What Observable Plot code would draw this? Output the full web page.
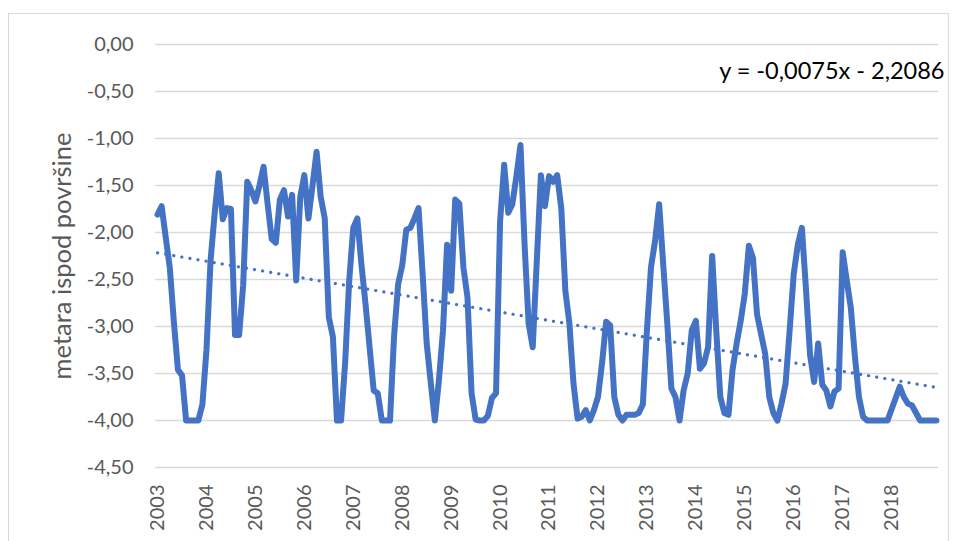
<!DOCTYPE html>
<html>
<head>
<meta charset="utf-8">
<script src="https://cdn.jsdelivr.net/npm/d3@7"></script>
<script src="https://cdn.jsdelivr.net/npm/@observablehq/plot@0.6"></script>
<style>
  html, body { margin: 0; padding: 0; background: #fff; }
  #wrap { position: relative; width: 956px; height: 541px; }
  #border { position: absolute; left: 8px; top: 13px; width: 941px; height: 540px; border: 1px solid #d9d9d9; box-sizing: border-box; pointer-events: none; }
</style>
</head>
<body>
<div id="wrap"><div id="border"></div></div>
<script>
// Year tick labels (category axis, one label every 12 months)
const yearLabels = ["2003","2004","2005","2006","2007","2008","2009","2010","2011","2012","2013","2014","2015","2016","2017","2018"];

// Monthly values, metres below surface
const v2003 = [-1.81,-1.72,-2.05,-2.37,-2.95,-3.46,-3.52,-4.00,-4.00,-4.00,-4.00,-3.83];
const v2004 = [-3.25,-2.30,-1.80,-1.37,-1.86,-1.74,-1.75,-3.09,-3.09,-2.56,-1.46,-1.55];
const v2005 = [-1.67,-1.50,-1.30,-1.70,-2.07,-2.11,-1.65,-1.55,-1.83,-1.60,-2.51,-1.62];
const v2006 = [-1.39,-1.85,-1.50,-1.14,-1.62,-1.85,-2.90,-3.11,-4.00,-4.00,-3.39,-2.51];
const v2007 = [-1.95,-1.85,-2.34,-2.76,-3.22,-3.68,-3.71,-4.00,-4.00,-4.00,-3.10,-2.55];
const v2008 = [-2.35,-1.97,-1.95,-1.85,-1.74,-2.44,-3.18,-3.60,-4.00,-3.57,-3.04,-2.13];
const v2009 = [-2.62,-1.65,-1.69,-2.37,-2.69,-3.71,-3.99,-4.00,-4.00,-3.95,-3.76,-3.71];
const v2010 = [-1.88,-1.28,-1.79,-1.70,-1.40,-1.07,-2.13,-2.97,-3.22,-2.30,-1.39,-1.72];
const v2011 = [-1.40,-1.46,-1.39,-1.74,-2.62,-2.97,-3.61,-3.98,-3.96,-3.89,-4.00,-3.89];
const v2012 = [-3.75,-3.39,-2.95,-2.99,-3.75,-3.94,-4.00,-3.94,-3.94,-3.94,-3.92,-3.83];
const v2013 = [-3.04,-2.37,-2.09,-1.70,-2.34,-2.97,-3.66,-3.75,-4.00,-3.68,-3.50,-3.04];
const v2014 = [-2.94,-3.45,-3.39,-3.22,-2.25,-3.04,-3.75,-3.92,-3.94,-3.46,-3.18,-2.94];
const v2015 = [-2.65,-2.14,-2.27,-2.87,-3.08,-3.29,-3.75,-3.92,-4.00,-3.82,-3.61,-3.04];
const v2016 = [-2.44,-2.13,-1.95,-2.60,-3.30,-3.59,-3.18,-3.62,-3.68,-3.85,-3.69,-3.66];
const v2017 = [-2.21,-2.51,-2.80,-3.32,-3.75,-3.96,-4.00,-4.00,-4.00,-4.00,-4.00,-4.00];
const v2018 = [-3.88,-3.76,-3.64,-3.75,-3.82,-3.84,-3.92,-4.00,-4.00,-4.00,-4.00,-4.00];

// Linear trendline shown on the chart: y = -0,0075x - 2,2086
const trendSlope = -0.0075;
const trendIntercept = -2.2086;
const trendLabel = "y = -0,0075x - 2,2086";
const yTicks = [0, -0.5, -1, -1.5, -2, -2.5, -3, -3.5, -4, -4.5];
const yTitle = "metara ispod površine";

const allValues = [v2003,v2004,v2005,v2006,v2007,v2008,v2009,v2010,v2011,v2012,v2013,v2014,v2015,v2016,v2017,v2018].flat();
const data = allValues.map((v, k) => ({i: k + 1, v}));
const n = data.length;
const trend = [{i: 1}, {i: n}].map(d => ({i: d.i, v: trendSlope * d.i + trendIntercept}));
const yearTickPos = yearLabels.map((y, k) => 1 + 12 * k);

const loc = d3.formatLocale({decimal: ",", thousands: ".", grouping: [3], currency: ["", ""], minus: "-"});
const fmt = loc.format(".2f");

const chart = Plot.plot({
  width: 956,
  height: 541,
  marginLeft: 155,
  marginRight: 18,
  marginTop: 44,
  marginBottom: 74,
  style: {fontFamily: "Lato, 'Open Sans', sans-serif", background: "transparent", overflow: "visible"},
  x: {domain: [0.5, n + 0.5]},
  y: {domain: [-4.5, 0]},
  marks: [
    Plot.ruleY(yTicks, {stroke: "#d9d9d9", strokeWidth: 1.3}),
    Plot.axisY({ticks: yTicks, tickFormat: d => fmt(d), tickSize: 0, tickPadding: 22, fontSize: 20, color: "#595959", label: null}),
    Plot.axisX({ticks: yearTickPos, tickFormat: d => yearLabels[(d - 1) / 12], tickSize: 0, tickPadding: 17, tickRotate: -90, fontSize: 20, color: "#595959", label: null}),
    Plot.line(data, {x: "i", y: "v", stroke: "#4472c4", strokeWidth: 6, strokeLinejoin: "round", strokeLinecap: "round"}),
    Plot.line(trend, {x: "i", y: "v", stroke: "#4472c4", strokeWidth: 3.2, strokeLinecap: "round", strokeDasharray: "0.1 8.1"}),
    Plot.text([trendLabel], {frameAnchor: "top-right", dx: 6, dy: 27, lineAnchor: "middle", textAnchor: "end", fontSize: 23.5, fill: "#000000"}),
    Plot.text([yTitle], {frameAnchor: "left", dx: -93, rotate: -90, fontSize: 25.5, fill: "#595959", textAnchor: "middle", lineAnchor: "middle"})
  ]
});
document.getElementById("wrap").prepend(chart);
</script>
</body>
</html>
